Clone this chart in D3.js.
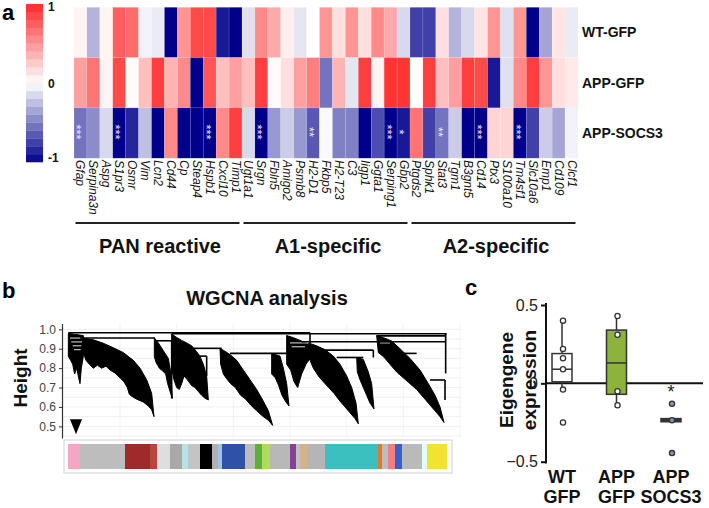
<!DOCTYPE html>
<html><head><meta charset="utf-8">
<script src="https://cdn.jsdelivr.net/npm/d3@7"></script>
<style>body{margin:0;background:#fff}svg{display:block;font-family:"Liberation Sans",Arial,Helvetica,sans-serif}</style>
</head><body><svg id="c" width="709" height="508"></svg>
<script>
// ---------- DATA ----------
const genes = ["Gfap","Serpina3n","Aspg","S1pr3","Osmr","Vim","Lcn2","Cd44","Cp","Steap4","Hspb1","Cxcl10","Timp1",
  "Ugt1a1","Srgn","Fbln5","Amigo2","Psmb8","H2-D1","Fkbp5","H2-T23","C3","Iigp1","Ggta1","Serping1","Gbp2",
  "Ptgds2","Sphk1","Stat3","Tgm1","B3gnt5","Cd14","Ptx3","S100a10","Tm4sf1","Slc10a6","Emp1","Cd109","Clcf1"];
const groupNames = ["PAN reactive","A1-specific","A2-specific"];
const groupSizes = [13,13,13];
const conditions = ["WT-GFP","APP-GFP","APP-SOCS3"];
const wtGfp = [0.05,-0.30,0.05,0.75,0.70,-0.05,-0.08,-1.0,0.50,0.85,0.85,-0.90,-1.0,
  -0.12,0.55,0.40,0.08,-0.10,0.0,0.50,0.15,0.50,0.15,0.55,0.40,-0.15,
  -0.75,-0.75,0.15,-0.30,-0.15,0.12,0.50,-0.12,0.50,-1.0,-0.35,0.12,-0.08];
const appGfp = [0.45,0.65,0.05,0.85,0.02,0.30,0.90,0.35,0.55,-1.0,0.80,0.30,0.45,
  0.30,0.90,0.02,0.15,0.45,0.60,-0.55,0.35,-0.10,0.90,0.05,0.95,0.95,
  0.0,0.90,0.30,0.45,0.90,0.85,-0.90,-0.12,0.55,0.90,0.50,0.15,0.10];
const appSocs3 = [-0.55,-0.45,-0.15,-1.0,-0.85,-0.25,-1.0,0.55,-1.0,-1.0,-1.0,0.55,0.90,
  -0.15,-1.0,-0.40,-0.20,-0.40,-0.65,-0.02,-0.50,-0.50,-1.0,-0.70,-1.0,-0.90,
  0.65,-0.75,-0.55,-0.20,-1.0,-1.0,0.20,0.20,-1.0,-0.75,-0.20,-0.35,-0.05];
const stars = ["***","","","***","","","","","","","***","","",
  "","***","","","","**","","","","","","***","*",
  "","","**","","","***","","","***","","","",""];
const colorbarTicks = [1,0,-1];

// dendrogram (leaf order units, height)
const clusterA0 = [[205,0.979],[250,0.968],[250,0.86],[244,0.80],[240,0.72],[236,0.75],[230,0.80],[224,0.77],[218,0.82],[212,0.84],[205,0.86]];
const clusterA = [[245,0.956],[280,0.946],[310,0.928],[340,0.905],[370,0.88],[400,0.84],[420,0.80],[440,0.74],[455,0.67],[462,0.55],[455,0.585],[445,0.605],[430,0.625],[410,0.64],[395,0.655],[388,0.665],[382,0.70],[372,0.73],[360,0.75],[345,0.775],[330,0.79],[318,0.81],[305,0.80],[292,0.815],[280,0.80],[268,0.82],[258,0.84],[250,0.88]];
const clusterB = [[463,0.956],[475,0.93],[490,0.89],[505,0.85],[512,0.78],[517,0.644],[510,0.68],[503,0.72],[497,0.77],[488,0.785],[478,0.80],[468,0.83],[463,0.86]];
const clusterC = [[515,0.976],[530,0.958],[545,0.943],[560,0.93],[575,0.915],[590,0.885],[600,0.86],[610,0.82],[620,0.76],[625,0.636],[615,0.645],[605,0.66],[595,0.68],[585,0.70],[575,0.71],[562,0.74],[552,0.76],[545,0.72],[538,0.69],[530,0.70],[522,0.74],[515,0.80]];
const clusterD = [[660,0.902],[672,0.89],[690,0.87],[710,0.84],[730,0.79],[750,0.74],[770,0.69],[790,0.63],[805,0.58],[818,0.505],[806,0.53],[790,0.55],[770,0.58],[752,0.61],[737,0.64],[722,0.66],[706,0.70],[692,0.72],[680,0.745],[670,0.77],[662,0.82]];
const clusterE = [[815,0.876],[840,0.862],[850,0.80],[860,0.72],[867,0.605],[856,0.63],[846,0.66],[836,0.71],[826,0.75],[815,0.77]];
const clusterF = [[860,0.968],[880,0.957],[900,0.943],[920,0.928],[932,0.915],[930,0.85],[918,0.82],[905,0.77],[893,0.70],[882,0.73],[872,0.79],[860,0.82]];
const clusterG = [[925,0.93],[950,0.915],[975,0.895],[1000,0.862],[1020,0.82],[1040,0.76],[1055,0.70],[1068,0.62],[1075,0.513],[1065,0.54],[1050,0.57],[1035,0.60],[1020,0.63],[1002,0.67],[986,0.70],[970,0.73],[955,0.76],[940,0.80],[930,0.84]];
const clusterH = [[1070,0.855],[1090,0.845],[1105,0.78],[1115,0.72],[1122,0.59],[1110,0.62],[1100,0.66],[1090,0.70],[1080,0.74],[1072,0.78]];
const clusterI = [[1130,0.968],[1150,0.957],[1175,0.94],[1200,0.90],[1230,0.85],[1260,0.79],[1285,0.72],[1305,0.66],[1320,0.60],[1332,0.52],[1320,0.55],[1305,0.58],[1290,0.61],[1270,0.65],[1250,0.69],[1230,0.72],[1210,0.75],[1190,0.78],[1170,0.82],[1150,0.86],[1135,0.88]];
const mergeLinks = [[205,930,0.982],[515,1340,0.977],[240,465,0.955],[465,515,0.941],[575,665,0.902],[580,620,0.862],[690,860,0.876],[1130,1337,0.966],[905,1335,0.936],[960,1120,0.893],[1010,1090,0.855],[1200,1250,0.876],[1290,1335,0.739]];
const mergeDrops = [[1337,0.977,0.773],[1335,0.739,0.636],[1120,0.893,0.855],[515,0.941,0.644],[620,0.862,0.76],[930,0.982,0.93]];
const innerGaps = [[210,248,0.955],[214,246,0.935],[218,244,0.915],[222,242,0.895],[870,925,0.93],[875,915,0.91],[1140,1170,0.93]];
const heightTicks = [0.5,0.6,0.7,0.8,0.9,1.0];
const arrowLeaf = 228, arrowHeight = 0.50;
const moduleStarts = [204,240,375,450,471,510,546,564,600,636,654,666,735,765,786,810,870,888,900,924,975,1134,1146,1164,1185,1206,1266,1281];
const moduleEnd = 1341;
const moduleColors = ["#f2a7c3","#bdbdbd","#9e2a2b","#b5473a","#dedede","#a9a9a9","#b7e3e6","#c4c4c4","#000000","#b0b0b0","#9ec5e6","#2f52a8","#bdbdbd","#5fae3a","#b3d95a","#b8b8b8","#8a3d9c","#c0c0c0","#d2b48c","#b5b5b5","#3cbfbf","#e07b2a","#bdbdbd","#f08080","#3a5fcd","#bababa","#e0ffff","#f2e330"];

// boxplot
const boxLine1 = ["WT","APP","APP"];
const boxLine2 = ["GFP","GFP","SOCS3"];
const boxQ1 = [0.01,-0.07,-0.245];
const boxMedian = [0.09,0.13,-0.235];
const boxQ3 = [0.19,0.34,-0.225];
const whiskerLow = [-0.04,-0.14,-0.235];
const whiskerHigh = [0.40,0.43,-0.235];
const boxPoints = [[0.40,0.22,0.16,0.09,-0.04,-0.25],[0.43,0.31,-0.05,-0.14],[-0.13,-0.235,-0.445]];
const boxFills = ["#ffffff","#8db33c","#2b3a55"];
const pointFills = ["#ffffff","#ffffff","#7f98b3"];
const eigenTicks = [0.5,0,-0.5];

// ---------- DRAW ----------
const svg = d3.select("#c");
const bold = t => t.attr("font-weight","bold");

// panel letters
bold(svg.append("text").attr("x",2).attr("y",20).attr("font-size",22).text("a"));
bold(svg.append("text").attr("x",2).attr("y",298).attr("font-size",22).text("b"));
bold(svg.append("text").attr("x",465).attr("y",295).attr("font-size",22).text("c"));

// heatmap
const x = d3.scaleBand().domain(genes).range([74,578]);
const y = d3.scaleBand().domain(conditions).range([7.3,158.2]);
const color = d3.scaleLinear().domain([-1,0,1]).range(["#00008b","#ffffff","#ff2a2a"]);
const rows = [wtGfp, appGfp, appSocs3];
conditions.forEach((c,i)=>{
  svg.append("g").selectAll("rect").data(rows[i]).join("rect")
    .attr("x",(d,j)=>x(genes[j])).attr("y",y(c))
    .attr("width",x.bandwidth()).attr("height",y.bandwidth())
    .attr("fill",d=>color(d)).attr("stroke","rgba(255,255,255,0.22)").attr("stroke-width",0.5);
});
// stars
svg.append("g").selectAll("text").data(stars.map((s,j)=>({s,g:genes[j]})).filter(d=>d.s)).join("text")
  .attr("transform",d=>`translate(${x(d.g)+x.bandwidth()/2},${y("APP-SOCS3")+y.bandwidth()/2-1}) rotate(90)`)
  .attr("text-anchor","middle").attr("dy","0.62em").attr("font-size",13).attr("fill","#e6e6fa").text(d=>d.s);
// row labels
bold(svg.append("g").selectAll("text").data(conditions).join("text")
  .attr("x",582).attr("y",d=>y(d)+y.bandwidth()/2+5).attr("font-size",14).attr("fill","#111").text(d=>d));
// gene labels
svg.append("g").selectAll("text").data(genes).join("text")
  .attr("transform",d=>`translate(${x(d)+x.bandwidth()/2},160) rotate(90)`)
  .attr("dy","0.33em").attr("font-size",12).attr("font-style","italic").attr("fill","#111").text(d=>d);
// group brackets and labels
let start = 0;
groupNames.forEach((g,i)=>{
  const x0 = x(genes[start]), x1 = x(genes[start+groupSizes[i]-1])+x.bandwidth();
  svg.append("line").attr("x1",x0+1.5).attr("x2",x1-2.5).attr("y1",223).attr("y2",223)
    .attr("stroke","#222").attr("stroke-width",2);
  bold(svg.append("text").attr("x",(x0+x1)/2+2).attr("y",253).attr("text-anchor","middle")
    .attr("font-size",20).attr("fill","#111").text(g));
  start += groupSizes[i];
});
// colorbar
const cbY = d3.scaleLinear().domain([-1,1]).range([162,4]);
const bands = d3.range(20).map(i=>-1+i*0.1);
svg.append("g").selectAll("rect").data(bands).join("rect")
  .attr("x",26).attr("width",17).attr("y",d=>cbY(d+0.1)).attr("height",d=>cbY(d)-cbY(d+0.1)+0.3)
  .attr("fill",d=>color(d+0.05));
bold(svg.append("g").selectAll("text").data(colorbarTicks).join("text")
  .attr("x",48).attr("y",d=>cbY(d)+(d===1?7:d===-1?0:5)).attr("font-size",12).attr("fill","#111")
  .text(d=>d));

// ---------- dendrogram ----------
const dx = d3.scaleLinear().domain([0,1400]).range([0,466.67]);
const dyS = d3.scaleLinear().domain([0.44,1.03]).range([438,323.5]);
const gridG = svg.append("g");
gridG.selectAll("line.h").data(d3.range(0.45,1.0001,0.05)).join("line")
  .attr("x1",62).attr("x2",462).attr("y1",d=>dyS(d)).attr("y2",d=>dyS(d))
  .attr("stroke","#ececec").attr("stroke-width",0.8);
gridG.selectAll("line.v").data(d3.range(360,1400,170)).join("line")
  .attr("x1",d=>dx(d)).attr("x2",d=>dx(d)).attr("y1",323.5).attr("y2",438)
  .attr("stroke","#f0f0f0").attr("stroke-width",0.8);
const yAx = svg.append("g").attr("transform","translate(62,0)")
  .call(d3.axisLeft(dyS).tickValues(heightTicks).tickFormat(d3.format(".1f")).tickSize(3).tickSizeOuter(0));
yAx.select(".domain").attr("stroke","#333").attr("stroke-width",1.2);
yAx.selectAll(".tick line").attr("stroke","#333");
yAx.selectAll("text").attr("font-size",12).attr("fill","#444").attr("font-family","Liberation Sans, Arial, sans-serif");
bold(svg.append("text").attr("transform","translate(27,378) rotate(-90)").attr("text-anchor","middle")
  .attr("font-size",19).attr("fill","#111").text("Height"));
bold(svg.append("text").attr("x",267).attr("y",305).attr("text-anchor","middle")
  .attr("font-size",20).attr("fill","#111").text("WGCNA analysis"));
const line = d3.line().x(d=>dx(d[0])).y(d=>dyS(d[1]));
const clusters = [clusterA0,clusterA,clusterB,clusterC,clusterD,clusterE,clusterF,clusterG,clusterH,clusterI];
svg.append("g").selectAll("path").data(clusters).join("path")
  .attr("d",d=>line(d)+"Z").attr("fill","#000").attr("stroke","#000").attr("stroke-width",1).attr("stroke-linejoin","round");
svg.append("g").selectAll("line").data(innerGaps).join("line")
  .attr("x1",d=>dx(d[0])).attr("x2",d=>dx(d[1])).attr("y1",d=>dyS(d[2])).attr("y2",d=>dyS(d[2]))
  .attr("stroke","#fff").attr("stroke-width",0.9);
svg.append("g").selectAll("line").data(mergeLinks).join("line")
  .attr("x1",d=>dx(d[0])).attr("x2",d=>dx(d[1])).attr("y1",d=>dyS(d[2])).attr("y2",d=>dyS(d[2]))
  .attr("stroke","#000").attr("stroke-width",1.6);
svg.append("g").selectAll("line").data(mergeDrops).join("line")
  .attr("x1",d=>dx(d[0])).attr("x2",d=>dx(d[0])).attr("y1",d=>dyS(d[1])).attr("y2",d=>dyS(d[2]))
  .attr("stroke","#000").attr("stroke-width",1.6);
// arrow
const ax = dx(arrowLeaf), ay = dyS(arrowHeight);
svg.append("path").attr("d",`M${ax-6},${ay-7}L${ax+6},${ay-7}L${ax},${ay+8}Z`).attr("fill","#000");
// module colour bar
svg.append("rect").attr("x",64).attr("y",440).attr("width",388).attr("height",33)
  .attr("fill","none").attr("stroke","#cfcfcf").attr("stroke-width",1);
svg.append("g").selectAll("rect").data(moduleStarts).join("rect")
  .attr("x",d=>dx(d)).attr("width",(d,i)=>dx(i<moduleStarts.length-1?moduleStarts[i+1]:moduleEnd)-dx(d)+0.3)
  .attr("y",444).attr("height",25).attr("fill",(d,i)=>moduleColors[i]);

// ---------- boxplot ----------
const groups = boxLine1.map((d,i)=>i);
const bx = d3.scalePoint().domain(groups).range([562,671]);
const by = d3.scaleLinear().domain([-0.5,0.5]).range([461.7,305]);
const bAx = svg.append("g").attr("transform","translate(546,0)")
  .call(d3.axisLeft(by).tickValues(eigenTicks).tickFormat(d=>d===0?"0":d3.format(".1f")(d)).tickSize(5).tickSizeOuter(0));
bAx.select(".domain").attr("stroke","#111").attr("stroke-width",2).attr("d","M0,303V463.5");
bAx.selectAll(".tick line").attr("stroke","#111").attr("stroke-width",2);
bAx.selectAll("text").attr("font-size",16).attr("fill","#222").attr("font-family","Liberation Sans, Arial, sans-serif").attr("x",-8);
svg.append("line").attr("x1",546).attr("x2",703).attr("y1",by(0)).attr("y2",by(0)).attr("stroke","#111").attr("stroke-width",2);
const ylab = svg.append("text").attr("transform","rotate(-90)").attr("text-anchor","middle").attr("font-size",19).attr("font-weight","bold").attr("fill","#111");
ylab.append("tspan").attr("x",-380).attr("y",513).text("Eigengene");
ylab.append("tspan").attr("x",-380).attr("y",536).text("expression");
const bw = 20;
groups.forEach(i=>{
  const cx = bx(i);
  const g = svg.append("g");
  g.append("line").attr("x1",cx).attr("x2",cx).attr("y1",by(whiskerHigh[i])).attr("y2",by(boxQ3[i])).attr("stroke","#333").attr("stroke-width",1.5);
  g.append("line").attr("x1",cx).attr("x2",cx).attr("y1",by(boxQ1[i])).attr("y2",by(whiskerLow[i])).attr("stroke","#333").attr("stroke-width",1.5);
  g.append("rect").attr("x",cx-bw/2).attr("width",bw).attr("y",by(boxQ3[i])).attr("height",by(boxQ1[i])-by(boxQ3[i]))
    .attr("fill",boxFills[i]).attr("stroke","#333").attr("stroke-width",1.5);
  g.append("line").attr("x1",cx-bw/2).attr("x2",cx+bw/2).attr("y1",by(boxMedian[i])).attr("y2",by(boxMedian[i])).attr("stroke","#333").attr("stroke-width",1.5);
  g.selectAll("circle").data(boxPoints[i]).join("circle").attr("cx",cx+1).attr("cy",d=>by(d)).attr("r",2.6)
    .attr("fill",pointFills[i]).attr("stroke","#333").attr("stroke-width",1.3);
  bold(g.append("text").attr("x",cx).attr("y",483).attr("text-anchor","middle").attr("font-size",18).attr("fill","#111").text(boxLine1[i]));
  bold(g.append("text").attr("x",cx).attr("y",503).attr("text-anchor","middle").attr("font-size",18).attr("fill","#111").text(boxLine2[i]));
});
svg.append("text").attr("x",bx(2)).attr("y",by(-0.13)-6).attr("text-anchor","middle").attr("font-size",18).attr("fill","#222").text("*");
</script></body></html>
